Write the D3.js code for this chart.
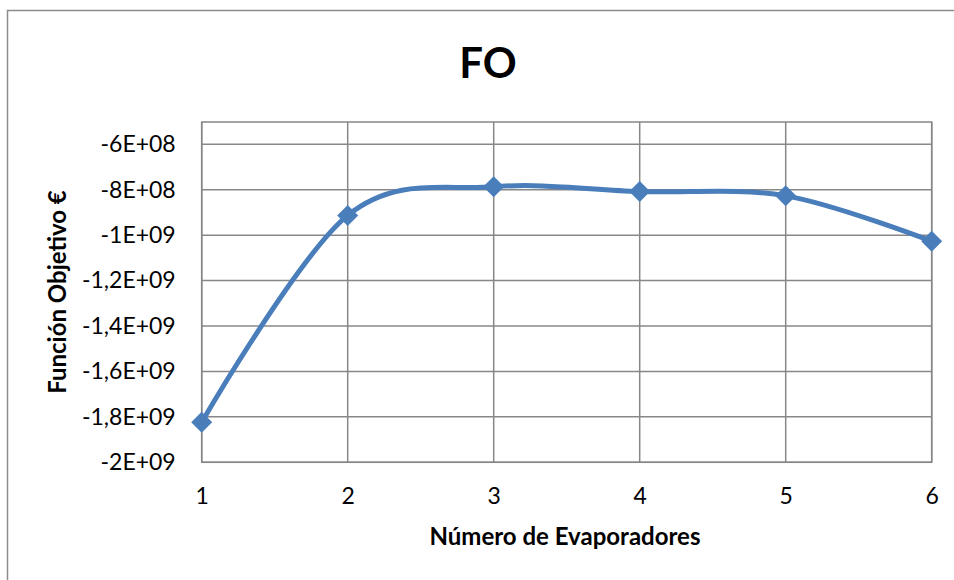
<!DOCTYPE html>
<html>
<head>
<meta charset="utf-8">
<script src="https://cdn.jsdelivr.net/npm/d3@7"></script>
<style>
  html, body { margin: 0; padding: 0; background: #fff; }
  svg { display: block; }
  text { font-family: Lato, "Open Sans", sans-serif; fill: #000; }
</style>
</head>
<body>
<svg id="chart" width="954" height="580"></svg>
<script>
// Objective function vs number of evaporators
const evaporators = [1, 2, 3, 4, 5, 6];
const objective = [-1.824e9, -9.13e8, -7.87e8, -8.08e8, -8.27e8, -1.027e9];
const yTickValues = [-6e8, -8e8, -1e9, -1.2e9, -1.4e9, -1.6e9, -1.8e9, -2e9];
const yTickLabels = ["-6E+08", "-8E+08", "-1E+09", "-1,2E+09", "-1,4E+09", "-1,6E+09", "-1,8E+09", "-2E+09"];
const xTickLabels = ["1", "2", "3", "4", "5", "6"];

const svg = d3.select("#chart");
const gridColor = "#878787";
const lineColor = "#4a7ebb";

// outer chart frame (runs off the right/bottom edge)
svg.append("rect")
  .attr("x", 7.5).attr("y", 10.5)
  .attr("width", 960).attr("height", 600)
  .attr("fill", "#fff").attr("stroke", "#8c8c8c").attr("stroke-width", 1.5);

const plot = { left: 201.7, right: 931.7, top: 122, yTop: 144.3, bottom: 462.3 };

const x = d3.scaleLinear().domain([1, 6]).range([plot.left, plot.right]);
const y = d3.scaleLinear().domain([-2e9, -6e8]).range([plot.bottom, plot.yTop]);

// horizontal gridlines
svg.append("g")
  .selectAll("line").data(yTickValues).join("line")
  .attr("x1", plot.left).attr("x2", plot.right)
  .attr("y1", d => y(d)).attr("y2", d => y(d))
  .attr("stroke", gridColor).attr("stroke-width", 1.5);

// vertical gridlines
svg.append("g")
  .selectAll("line").data(evaporators).join("line")
  .attr("x1", d => x(d)).attr("x2", d => x(d))
  .attr("y1", plot.top).attr("y2", plot.bottom)
  .attr("stroke", gridColor).attr("stroke-width", 1.5);

// plot area border
svg.append("rect")
  .attr("x", plot.left).attr("y", plot.top)
  .attr("width", plot.right - plot.left).attr("height", plot.bottom - plot.top)
  .attr("fill", "none").attr("stroke", gridColor).attr("stroke-width", 1.5);

// y axis labels
const yAxis = d3.axisLeft(y)
  .tickValues(yTickValues)
  .tickFormat((d, i) => yTickLabels[i])
  .tickSize(0).tickPadding(26);
const gy = svg.append("g").attr("transform", `translate(${plot.left},0)`).call(yAxis);
gy.select(".domain").remove();
gy.selectAll("text").style("font-size", "23px").style("font-family", "Lato, sans-serif").attr("fill", "#000");

// x axis labels
const xAxis = d3.axisBottom(x)
  .tickValues(evaporators)
  .tickFormat((d, i) => xTickLabels[i])
  .tickSize(0).tickPadding(25);
const gx = svg.append("g").attr("transform", `translate(0,${plot.bottom})`).call(xAxis);
gx.select(".domain").remove();
gx.selectAll("text").style("font-size", "23px").style("font-family", "Lato, sans-serif").attr("fill", "#000");

// smoothed series line
const line = d3.line()
  .x((d, i) => x(evaporators[i]))
  .y(d => y(d))
  .curve(d3.curveCatmullRom.alpha(0));

svg.append("path")
  .datum(objective)
  .attr("d", line)
  .attr("fill", "none")
  .attr("stroke", lineColor)
  .attr("stroke-width", 5)
  .attr("stroke-linecap", "round");

// diamond markers
svg.append("g")
  .selectAll("path").data(objective).join("path")
  .attr("transform", (d, i) => `translate(${x(evaporators[i])},${y(d)})`)
  .attr("d", "M0,-10.5L10.5,0L0,10.5L-10.5,0Z")
  .attr("fill", lineColor);

// title
svg.append("text")
  .attr("x", 488).attr("y", 78)
  .attr("text-anchor", "middle")
  .style("font-size", "42px").style("font-weight", "bold")
  .text("FO");

// axis titles
svg.append("text")
  .attr("x", 565).attr("y", 545)
  .attr("text-anchor", "middle")
  .style("font-size", "24px").style("font-weight", "bold")
  .text("Número de Evaporadores");

svg.append("text")
  .attr("transform", "translate(66,292) rotate(-90)")
  .attr("text-anchor", "middle")
  .style("font-size", "24px").style("font-weight", "bold")
  .text("Función Objetivo €");
</script>
</body>
</html>
